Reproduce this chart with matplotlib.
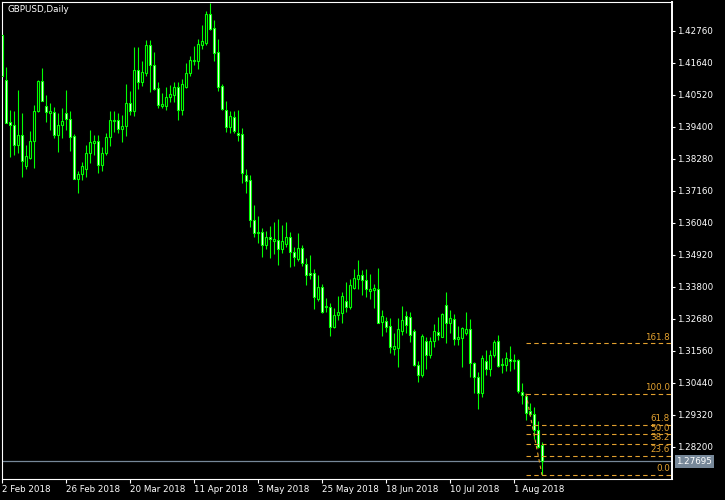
import matplotlib
matplotlib.use("Agg")
import matplotlib.pyplot as plt
from matplotlib.transforms import offset_copy
import numpy as np

symbol_title = "GBPUSD,Daily"

opens = [
    1.42620, 1.41045, 1.39575, 1.39460, 1.38780, 1.39110, 1.38035, 1.38315, 1.38920, 1.39950,
    1.41000, 1.40135, 1.39900, 1.39925, 1.39130, 1.39480, 1.39880, 1.39670, 1.39085, 1.37590,
    1.37755, 1.37940, 1.38480, 1.38850, 1.38900, 1.38060, 1.38500, 1.39040, 1.39620, 1.39645,
    1.39340, 1.39435, 1.40230, 1.39970, 1.41395, 1.40975, 1.41300, 1.42260, 1.41560, 1.40765,
    1.40135, 1.40135, 1.40440, 1.40530, 1.40790, 1.39995, 1.40810, 1.41280, 1.41720, 1.41720,
    1.42260, 1.42330, 1.43355, 1.42865, 1.42025, 1.40835, 1.39995, 1.39390, 1.39740, 1.39200,
    1.39155, 1.37710, 1.37545, 1.36145, 1.35680, 1.35725, 1.35280, 1.35540, 1.35420, 1.35445,
    1.35120, 1.35305, 1.35540, 1.35025, 1.34790, 1.35165, 1.34605, 1.34300, 1.34300, 1.33390,
    1.33810, 1.33090, 1.33090, 1.32410, 1.32830, 1.32900, 1.33300, 1.33110, 1.33765, 1.34090,
    1.34210, 1.34045, 1.33670, 1.33695, 1.33740, 1.32575, 1.32600, 1.32435, 1.31640, 1.31665,
    1.32270, 1.32785, 1.32740, 1.32270, 1.31080, 1.30730, 1.31920, 1.31420, 1.31900, 1.32225,
    1.32060, 1.33160, 1.32550, 1.32670, 1.31990, 1.32015, 1.32200, 1.32320, 1.31130, 1.30640,
    1.30100, 1.31200, 1.30940, 1.31410, 1.31900, 1.31105, 1.31060, 1.31270, 1.31200, 1.31245,
    1.30125, 1.29985, 1.29470, 1.29355, 1.28795, 1.28280]

highs = [
    1.42690, 1.41490, 1.39995, 1.39960, 1.40695, 1.39880, 1.38760, 1.39250, 1.40160, 1.41045,
    1.41465, 1.40510, 1.40230, 1.40090, 1.39880, 1.40065, 1.40695, 1.39950, 1.39155, 1.37850,
    1.38175, 1.38760, 1.39295, 1.39130, 1.39110, 1.38690, 1.39200, 1.39970, 1.39970, 1.39880,
    1.39810, 1.40905, 1.40670, 1.42190, 1.42210, 1.41720, 1.42445, 1.42445, 1.42025, 1.40975,
    1.40580, 1.40790, 1.40880, 1.40975, 1.40975, 1.41070, 1.41630, 1.41885, 1.42235, 1.42470,
    1.42960, 1.43450, 1.43730, 1.43145, 1.42490, 1.40905, 1.40320, 1.39950, 1.39950, 1.39995,
    1.39365, 1.37920, 1.37710, 1.36660, 1.36285, 1.35865, 1.35750, 1.35935, 1.36075, 1.36170,
    1.35960, 1.36075, 1.35725, 1.35190, 1.35680, 1.35280, 1.34815, 1.34930, 1.34420, 1.34210,
    1.33905, 1.33415, 1.33250, 1.33065, 1.33485, 1.33625, 1.33975, 1.34070, 1.34440, 1.34745,
    1.34395, 1.34440, 1.34255, 1.33905, 1.34465, 1.32995, 1.32760, 1.32715, 1.32200, 1.32715,
    1.33135, 1.32950, 1.32925, 1.32340, 1.31220, 1.32155, 1.32060, 1.32050, 1.32505, 1.32740,
    1.32880, 1.33625, 1.32995, 1.32855, 1.32435, 1.32410, 1.32925, 1.32670, 1.31175, 1.30825,
    1.31410, 1.31595, 1.31595, 1.31945, 1.32110, 1.31315, 1.31525, 1.31735, 1.31455, 1.31270,
    1.30430, 1.29985, 1.29730, 1.29610, 1.29100, 1.28375]

lows = [
    1.41150, 1.39530, 1.38360, 1.38420, 1.38480, 1.37640, 1.37940, 1.38290, 1.37965, 1.39925,
    1.40300, 1.39575, 1.39295, 1.39015, 1.38525, 1.39015, 1.39295, 1.38570, 1.37570, 1.37100,
    1.37545, 1.37660, 1.38150, 1.38430, 1.37800, 1.37870, 1.38410, 1.38735, 1.39225, 1.39180,
    1.38875, 1.39085, 1.39810, 1.39785, 1.40720, 1.40835, 1.41185, 1.40625, 1.40695, 1.40065,
    1.40065, 1.39995, 1.40275, 1.40275, 1.39645, 1.39810, 1.40765, 1.41185, 1.41580, 1.41440,
    1.42120, 1.42280, 1.42795, 1.41720, 1.40670, 1.39995, 1.39225, 1.39200, 1.39200, 1.38920,
    1.37450, 1.37100, 1.35890, 1.35540, 1.35350, 1.34840, 1.35140, 1.34815, 1.34955, 1.34580,
    1.34980, 1.35210, 1.34490, 1.34535, 1.34720, 1.34535, 1.33880, 1.34090, 1.33040, 1.33320,
    1.32900, 1.32925, 1.32085, 1.32365, 1.32645, 1.32530, 1.32925, 1.33020, 1.33720, 1.33740,
    1.33530, 1.33440, 1.33370, 1.33065, 1.32530, 1.32085, 1.32225, 1.31480, 1.31410, 1.31010,
    1.32130, 1.32180, 1.31875, 1.31035, 1.30475, 1.30660, 1.30940, 1.31315, 1.31690, 1.31945,
    1.32040, 1.31850, 1.32180, 1.31780, 1.31780, 1.31010, 1.32130, 1.30660, 1.30080, 1.29540,
    1.29940, 1.30710, 1.30685, 1.31340, 1.31010, 1.30800, 1.30870, 1.30870, 1.30920, 1.30100,
    1.29705, 1.29145, 1.29285, 1.28490, 1.28165, 1.27220]

closes = [
    1.41185, 1.39550, 1.39460, 1.38780, 1.39110, 1.38220, 1.38385, 1.38900, 1.39950, 1.41000,
    1.40320, 1.39925, 1.39970, 1.39130, 1.39480, 1.39600, 1.39670, 1.39040, 1.37590, 1.37755,
    1.38035, 1.38480, 1.38875, 1.38920, 1.38060, 1.38500, 1.39040, 1.39645, 1.39645, 1.39340,
    1.39435, 1.40230, 1.39970, 1.41395, 1.40975, 1.41325, 1.42260, 1.41560, 1.40720, 1.40180,
    1.40205, 1.40440, 1.40555, 1.40790, 1.39995, 1.40905, 1.41280, 1.41745, 1.41745, 1.42305,
    1.42400, 1.43355, 1.42820, 1.42000, 1.40810, 1.40020, 1.39390, 1.39785, 1.39270, 1.39110,
    1.37780, 1.37520, 1.36145, 1.35700, 1.35725, 1.35280, 1.35540, 1.35470, 1.35470, 1.35140,
    1.35400, 1.35540, 1.35025, 1.34840, 1.35165, 1.34650, 1.34210, 1.34210, 1.33440, 1.33790,
    1.32925, 1.33135, 1.32410, 1.32810, 1.32925, 1.33485, 1.33110, 1.33860, 1.34115, 1.34210,
    1.34045, 1.33720, 1.33720, 1.33765, 1.32550, 1.32785, 1.32410, 1.31710, 1.31735, 1.32320,
    1.32645, 1.32480, 1.32130, 1.31080, 1.30730, 1.32085, 1.31410, 1.31900, 1.32250, 1.32110,
    1.32855, 1.32530, 1.32715, 1.31990, 1.32060, 1.32365, 1.32320, 1.31130, 1.30640, 1.30100,
    1.31315, 1.30940, 1.31410, 1.31875, 1.31035, 1.31060, 1.31315, 1.31200, 1.31245, 1.30150,
    1.30010, 1.29400, 1.29355, 1.28795, 1.28210, 1.27695]

date_tick_index = [0, 16, 32, 48, 64, 80, 96, 112, 128]
date_tick_labels = ["2 Feb 2018", "26 Feb 2018", "20 Mar 2018", "11 Apr 2018", "3 May 2018",
                    "25 May 2018", "18 Jun 2018", "10 Jul 2018", "1 Aug 2018"]
price_ticks = [1.42760, 1.41640, 1.40520, 1.39400, 1.38280, 1.37160, 1.36040,
               1.34920, 1.33800, 1.32680, 1.31560, 1.30440, 1.29320, 1.28200]
price_tick_labels = ["%.5f" % p for p in price_ticks]

current_price = 1.27695
fib_start_index = 131
fib_end_index = 135
fib_high = 1.30065
fib_low = 1.27220
fib_levels = [0.0, 23.6, 38.2, 50.0, 61.8, 100.0, 161.8]

# ---------------- drawing ----------------
W, H = 725, 500
fig = plt.figure(figsize=(W / 100, H / 100), dpi=100, facecolor="black")
ax = fig.add_axes([2 / W, 21 / H, 670 / W, 477 / H], facecolor="black")

FS = 6.3
FONT = "DejaVu Sans"
LIME = "#00FF00"
FIB = "#E3A12F"
BIDC = "#778899"

o = np.array(opens); h = np.array(highs); l = np.array(lows); c = np.array(closes)
x = np.arange(len(o))

ax.vlines(x, l, h, color=LIME, linewidth=0.8, zorder=2)
bull = c >= o
fills = np.where(bull, "black", "white")
heights = np.maximum(np.abs(c - o), 1e-6)
bottoms = np.minimum(o, c)
ax.bar(x, heights, bottom=bottoms, width=0.55, color=fills, edgecolor=LIME,
       linewidth=0.8, zorder=3)

# current price line
ax.axhline(current_price, color=BIDC, linewidth=0.9, zorder=1)

# fibonacci
rng = fib_high - fib_low
xmax = 167.5
for lv in fib_levels:
    p = fib_low + rng * lv / 100.0
    ln, = ax.plot([fib_start_index, xmax], [p, p], color=FIB, linewidth=0.8, zorder=4)
    ln.set_dashes((4, 3))
    tr = offset_copy(ax.transData, fig=fig, x=-2, y=1.5, units="dots")
    ax.text(xmax, p, "%.1f" % lv, color=FIB, fontsize=FS, family=FONT,
            ha="right", va="bottom", transform=tr, zorder=5)
dl, = ax.plot([fib_start_index, fib_end_index], [fib_high, fib_low], color=FIB,
              linewidth=0.8, zorder=4)
dl.set_dashes((3, 3))

ax.set_xlim(0, xmax)
ax.set_ylim(1.2708, 1.43775)

# axes styling
for s in ax.spines.values():
    s.set_color("white")
    s.set_linewidth(0.8)
ax.spines["right"].set_linewidth(1.4)

ax.yaxis.tick_right()
ax.set_yticks(price_ticks, price_tick_labels)
ax.tick_params(axis="y", direction="out", length=2.5, width=0.8, color="white",
               labelcolor="white", labelsize=FS, pad=0.8)
ax.set_xticks(date_tick_index, date_tick_labels)
ax.tick_params(axis="x", direction="out", length=3, width=0.8, color="white",
               labelcolor="white", labelsize=FS, pad=1.5)
for t in ax.get_xticklabels():
    t.set_ha("left")
    t.set_family(FONT)
for t in ax.get_yticklabels():
    t.set_family(FONT)

# price label box
ax.annotate("%.5f" % current_price, xy=(1.0, current_price),
            xycoords=("axes fraction", "data"), xytext=(3.2, 0),
            textcoords="offset points", ha="left", va="center", color="white",
            fontsize=FS, family=FONT, annotation_clip=False,
            bbox=dict(boxstyle="square,pad=0.2", facecolor=BIDC, edgecolor="none"))

fig.text(7 / W, 1 - 10 / H, symbol_title, color="white", fontsize=FS, family=FONT,
         ha="left", va="center")

fig.savefig("out.png", dpi=100, facecolor="black")
